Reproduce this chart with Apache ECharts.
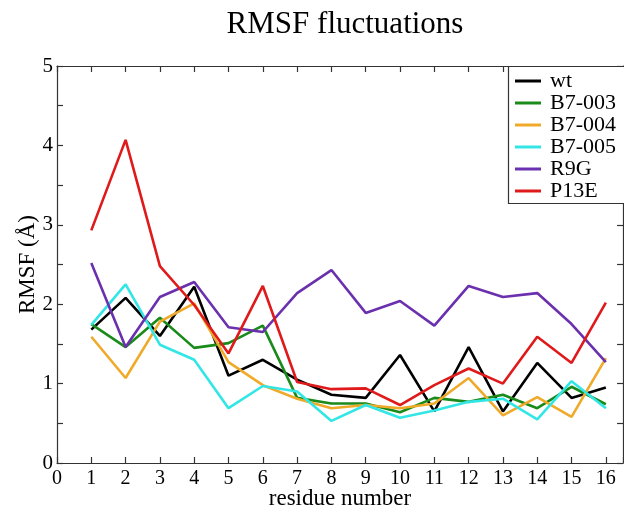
<!DOCTYPE html>
<html>
<head>
<meta charset="utf-8">
<script src="https://cdn.jsdelivr.net/npm/echarts@6/dist/echarts.min.js"></script>
<style>
html,body{margin:0;padding:0;background:#fff;}
#chart{width:624px;height:513px;}
</style>
</head>
<body>
<div id="chart"></div>
<script>
var residues = [1,2,3,4,5,6,7,8,9,10,11,12,13,14,15,16];
var wt     = [1.68,2.08,1.60,2.22,1.10,1.30,1.05,0.86,0.82,1.36,0.65,1.46,0.65,1.26,0.82,0.95];
var b7_003 = [1.75,1.46,1.83,1.45,1.51,1.73,0.82,0.75,0.75,0.64,0.82,0.77,0.86,0.69,0.96,0.74];
var b7_004 = [1.59,1.07,1.78,2.01,1.27,0.98,0.81,0.69,0.73,0.69,0.75,1.07,0.60,0.83,0.58,1.32];
var b7_005 = [1.74,2.25,1.49,1.30,0.69,0.97,0.90,0.53,0.73,0.57,0.66,0.77,0.81,0.55,1.03,0.69];
var r9g    = [2.52,1.46,2.09,2.28,1.71,1.65,2.14,2.43,1.89,2.04,1.73,2.23,2.09,2.14,1.75,1.27];
var p13e   = [2.93,4.07,2.48,1.99,1.38,2.23,1.02,0.93,0.94,0.73,0.98,1.19,1.00,1.59,1.26,2.02];
var seriesNames = ['wt','B7-003','B7-004','B7-005','R9G','P13E'];
var seriesValues = [wt,b7_003,b7_004,b7_005,r9g,p13e];
var seriesColors = ['#000000','#1a8a1a','#f0aa2a','#33e6e6','#6a30ae','#e01a1a'];

var FONT = '"Liberation Serif", "DejaVu Serif", serif';
var AX = '#333333';

function pairs(vals){ return residues.map(function(r,i){ return [r, vals[i]]; }); }
function intOnly(v){ return (Math.abs(v - Math.round(v)) < 1e-6) ? String(Math.round(v)) : ''; }
function mk(extra){
  return Object.assign({
    axisLine:{show:true, onZero:false, lineStyle:{color:AX, width:1.2}},
    axisTick:{show:true, inside:true, length:6, lineStyle:{color:AX, width:1.2}},
    splitLine:{show:false}
  }, extra);
}

var chart = echarts.init(document.getElementById('chart'), null, {renderer:'canvas'});
var series = seriesNames.map(function(n,i){
  return {
    name:n, type:'line', data:pairs(seriesValues[i]),
    symbol:'none', showSymbol:false,
    lineStyle:{color:seriesColors[i], width:2.6},
    itemStyle:{color:seriesColors[i]},
    xAxisIndex:0, yAxisIndex:0
  };
});
series.push({type:'line', data:[], xAxisIndex:1, yAxisIndex:1, symbol:'none', silent:true});

chart.setOption({
  animation:false,
  backgroundColor:'#ffffff',
  title:{
    text:'RMSF fluctuations', left:340, top:4, textAlign:'center',
    textStyle:{fontFamily:FONT, fontSize:31, fontWeight:'normal', color:'#000'}
  },
  grid:{left:57, top:66, right:1, bottom:50, containLabel:false, outerBoundsMode:'none'},
  xAxis:[
    mk({type:'value', min:0, max:16.5, interval:1, position:'bottom',
      name:'residue number', nameLocation:'middle', nameGap:24, nameMoveOverlap:false,
      nameTextStyle:{fontFamily:FONT, fontSize:23, color:'#000'},
      axisLabel:{formatter:intOnly, fontFamily:FONT, fontSize:20, color:'#000', margin:6}}),
    mk({type:'value', min:0, max:16.5, interval:1, position:'top',
      axisLabel:{show:false}})
  ],
  yAxis:[
    mk({type:'value', min:0, max:5, interval:0.5, position:'left',
      name:'RMSF (Å)', nameLocation:'middle', nameGap:18, nameMoveOverlap:false,
      nameTextStyle:{fontFamily:FONT, fontSize:23, color:'#000'},
      axisLabel:{formatter:intOnly, fontFamily:FONT, fontSize:21, color:'#000', margin:4}}),
    mk({type:'value', min:0, max:5, interval:0.5, position:'right',
      axisLabel:{show:false}})
  ],
  graphic:[{
    type:'rect', z:3, shape:{x:508.5, y:66.5, width:120, height:137},
    style:{fill:'#ffffff', stroke:'#333333', lineWidth:1.2}
  }],
  legend:{
    orient:'vertical', left:515, top:70, padding:0, itemGap:0,
    itemWidth:26, itemHeight:3, icon:'rect', z:5,
    data:seriesNames,
    textStyle:{fontFamily:FONT, fontSize:22, color:'#000', lineHeight:21.6, padding:[0,0,0,4]}
  },
  series: series
});
</script>
</body>
</html>
